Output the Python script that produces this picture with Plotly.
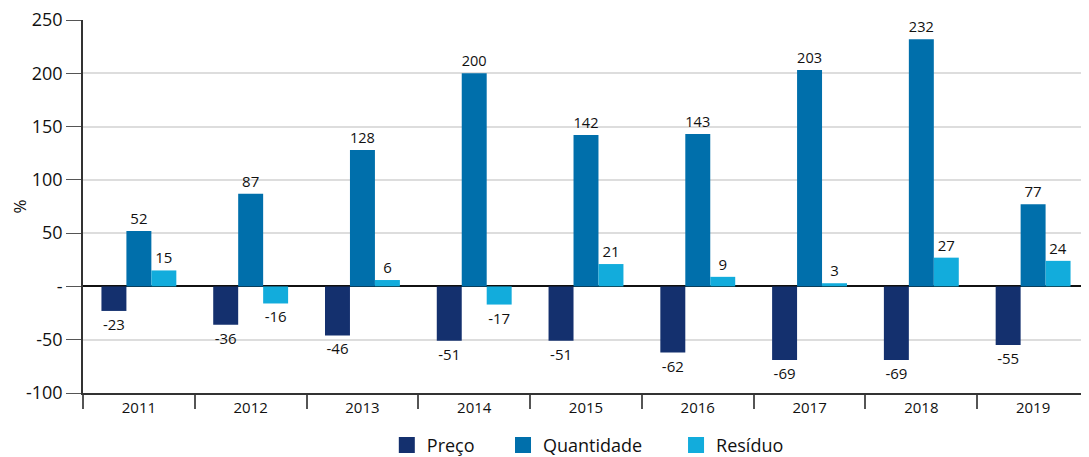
import plotly.graph_objects as go

years = ["2011", "2012", "2013", "2014", "2015", "2016", "2017", "2018", "2019"]
preco = [-23, -36, -46, -51, -51, -62, -69, -69, -55]
quantidade = [52, 87, 128, 200, 142, 143, 203, 232, 77]
residuo = [15, -16, 6, -17, 21, 9, 3, 27, 24]
y_ticks = [-100, -50, 0, 50, 100, 150, 200, 250]
y_tick_text = ["-100", "-50", "-", "50", "100", "150", "200", "250"]

font_family = "Open Sans, Noto Sans, sans-serif"
series = [("Preço", preco, "#14306e", "legend", 0.302),
          ("Quantidade", quantidade, "#006fab", "legend2", 0.4175),
          ("Resíduo", residuo, "#12acdc", "legend3", 0.5895)]

fig = go.Figure()
for name, vals, color, leg, lx in series:
    fig.add_trace(go.Bar(
        x=years, y=vals, name=name, marker_color=color, marker_line_width=0,
        text=[str(v) for v in vals], textposition="outside",
        textfont=dict(size=15, color="#111111", family=font_family),
        cliponaxis=False, showlegend=False,
    ))
for name, vals, color, leg, lx in series:
    fig.add_trace(go.Scatter(
        x=[None], y=[None], mode="markers", name=name,
        marker=dict(symbol="square", size=18, color=color),
        showlegend=True, hoverinfo="skip", legend=leg,
    ))

legend_common = dict(orientation="h", xanchor="left", y=-0.14, yanchor="middle",
                     font=dict(size=18, color="#111111", family=font_family),
                     itemwidth=30, itemsizing="trace", itemclick=False,
                     bgcolor="rgba(0,0,0,0)")

# page body has an 8px default margin; the figure is sized to fill the window
fig.update_layout(
    width=1081, height=449,
    margin=dict(l=75, r=0, t=12, b=64, autoexpand=False),
    paper_bgcolor="white", plot_bgcolor="white",
    barmode="group", bargap=0.33, bargroupgap=0,
    font=dict(family=font_family, size=15, color="#111111"),
    showlegend=True,
    legend=dict(x=series[0][4], **legend_common),
    legend2=dict(x=series[1][4], **legend_common),
    legend3=dict(x=series[2][4], **legend_common),
)
fig.update_xaxes(
    showline=True, linecolor="#333333", linewidth=1.5,
    ticks="outside", ticklen=14, tickcolor="#555555", tickwidth=1.5,
    tickson="boundaries", showgrid=False,
    tickfont=dict(size=15, color="#111111"),
)
fig.update_yaxes(
    range=[-100, 250], tickvals=y_ticks, ticktext=y_tick_text,
    showline=True, linecolor="#333333", linewidth=1.5,
    ticks="outside", ticklen=15, tickcolor="#555555", tickwidth=1.2,
    ticklabeloverflow="allow",
    showgrid=True, gridcolor="#dddddd", gridwidth=1.5,
    zeroline=True, zerolinecolor="#111111", zerolinewidth=1.5,
    tickfont=dict(size=18, color="#111111"),
    title=dict(text="%", font=dict(size=17, color="#111111"), standoff=22),
)
fig.write_html("out.html")
